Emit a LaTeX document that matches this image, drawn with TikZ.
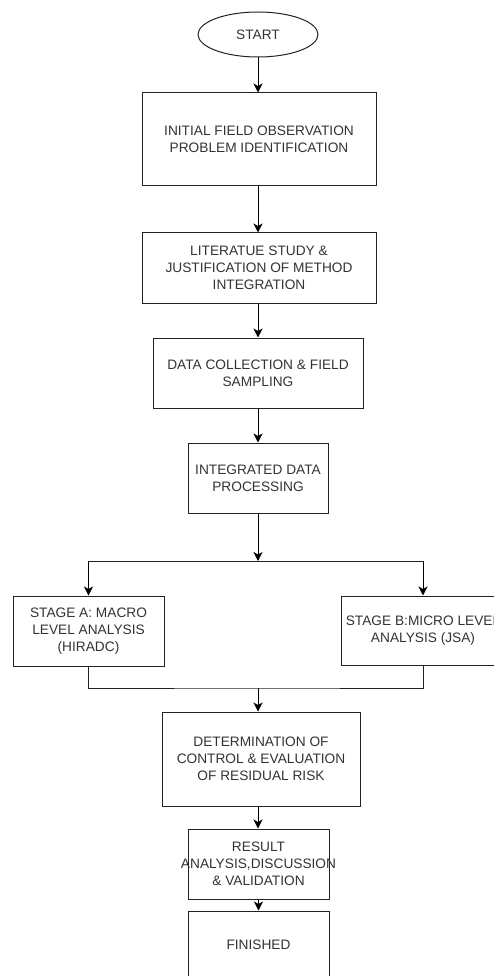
\documentclass[tikz,border=0pt]{standalone}
\usepackage{fontspec}
\setmainfont{Liberation Sans}
\usetikzlibrary{arrows.meta,shapes.geometric}
\definecolor{txt}{HTML}{333333}
\definecolor{ln}{HTML}{222222}
\tikzset{
  box/.style={draw=ln,line width=1pt,rectangle,inner sep=0pt,align=center,text=txt,
    font=\fontsize{13.7}{16.8}\selectfont},
  term/.style={draw=ln,line width=1pt,ellipse,inner sep=0pt,align=center,text=txt,
    font=\fontsize{13.7}{16.8}\selectfont},
  arr/.style={draw=black,line width=1pt,-{Stealth[length=9pt,width=9pt,inset=2.5pt]}},
  conn/.style={draw=ln,line width=1pt}
}
\begin{document}
\begin{tikzpicture}[x=1pt,y=-1pt]
\useasboundingbox (0,0) rectangle (494,976);
\clip (0,0) rectangle (494,976);
\node[term,minimum width=120pt,minimum height=45pt] (start) at (258,34.5) {START};
\node[box,minimum width=234pt,minimum height=93pt] (b1) at (259,139.5) {INITIAL FIELD OBSERVATION\\PROBLEM IDENTIFICATION};
\node[box,minimum width=234pt,minimum height=70pt] (b2) at (259,268) {LITERATUE STUDY \&\\JUSTIFICATION OF METHOD\\INTEGRATION};
\node[box,minimum width=210pt,minimum height=70pt] (b3) at (258,373) {DATA COLLECTION \& FIELD\\SAMPLING};
\node[box,minimum width=140pt,minimum height=70pt] (b4) at (258,478) {INTEGRATED DATA\\PROCESSING};
\coordinate (split) at (258,561);
\node[box,minimum width=151pt,minimum height=70pt] (ba) at (88.5,631) {STAGE A: MACRO\\LEVEL ANALYSIS\\(HIRADC)};
\node[box,minimum width=164pt,minimum height=69pt] (bb) at (423,630.5) {STAGE B:MICRO LEVEL\\ANALYSIS (JSA)};
\coordinate (merge) at (258,688);
\node[box,minimum width=198pt,minimum height=94pt] (b5) at (261,759) {DETERMINATION OF\\CONTROL \& EVALUATION\\OF RESIDUAL RISK};
\node[box,minimum width=141pt,minimum height=70pt] (b6) at (258.5,864) {RESULT\\\makebox[0pt]{ANALYSIS,DISCUSSION}\\\& VALIDATION};
\node[box,minimum width=141pt,minimum height=68pt] (b7) at (258.5,945) {FINISHED};
\draw[arr] (start.south) -- (start.south |- b1.north);
\draw[arr] (b1.south -| start.south) -- (start.south |- b2.north);
\draw[arr] (b2.south -| start.south) -- (start.south |- b3.north);
\draw[arr] (b3) -- (b4);
\draw[arr] (b4) -- (split);
\draw[conn] (ba.north |- split) -- (bb.north |- split);
\draw[arr] (ba.north |- split) -- (ba.north);
\draw[arr] (bb.north |- split) -- (bb.north);
\draw[conn] (ba.south) |- (merge) -| (bb.south);
\draw[arr] (merge) -- (merge |- b5.north);
\draw[arr] (b5.south -| merge) -- (merge |- b6.north);
\draw[arr] (b6) -- (b7);
\end{tikzpicture}
\end{document}
